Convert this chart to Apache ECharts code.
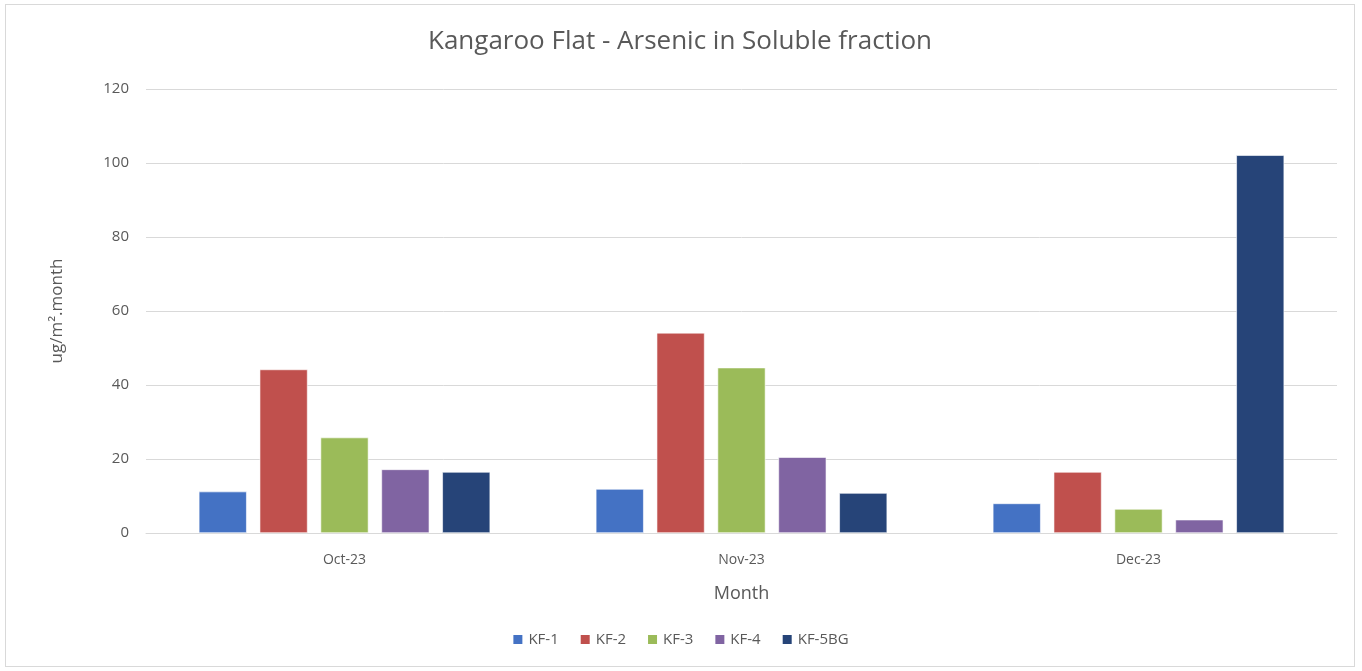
<!DOCTYPE html>
<html>
<head>
<meta charset="utf-8">
<script src="https://cdn.jsdelivr.net/npm/echarts@6/dist/echarts.min.js"></script>
<style>
  html, body { margin: 0; padding: 0; background: #fff; }
  #main { position: absolute; left: 5px; top: 4px; width: 1350px; height: 663px; border: 1px solid #d9d9d9; box-sizing: border-box; }
</style>
</head>
<body>
<div id="main"></div>
<script>
// months on the x axis
const months = ['Oct-23', 'Nov-23', 'Dec-23']
// soluble arsenic, ug/m2.month, per site
const kf1 = [11.2, 11.9, 8.0]
const kf2 = [44.2, 54.1, 16.5]
const kf3 = [25.8, 44.7, 6.5]
const kf4 = [17.2, 20.5, 3.6]
const kf5bg = [16.5, 10.8, 102.1]
const yTicks = [0, 20, 40, 60, 80, 100, 120]

const names = ['KF-1', 'KF-2', 'KF-3', 'KF-4', 'KF-5BG']
const colors = ['#4472C4', '#C0504D', '#9BBB59', '#8064A2', '#264478']
const values = [kf1, kf2, kf3, kf4, kf5bg]

const fontFam = 'Open Sans, sans-serif'
const chart = echarts.init(document.getElementById('main'))

chart.setOption({
  animation: false,
  title: {
    text: 'Kangaroo Flat - Arsenic in Soluble fraction',
    left: 'center',
    top: 19,
    textStyle: { fontFamily: fontFam, fontSize: 26, fontWeight: 'normal', color: '#595959' }
  },
  legend: {
    data: names,
    bottom: 14,
    left: 'center',
    itemWidth: 11,
    itemHeight: 11,
    itemGap: 20,
    icon: 'rect',
    textStyle: { fontFamily: fontFam, fontSize: 15, color: '#595959' }
  },
  grid: { left: 140, right: 17, top: 84, bottom: 133 },
  xAxis: {
    type: 'category',
    data: months,
    name: 'Month',
    nameLocation: 'middle',
    nameGap: 52,
    nameTextStyle: { fontFamily: fontFam, fontSize: 18, color: '#595959' },
    axisLine: { lineStyle: { color: '#d9d9d9', width: 1 } },
    axisTick: { show: false },
    axisLabel: { fontFamily: fontFam, fontSize: 14, color: '#595959', margin: 20 }
  },
  yAxis: {
    type: 'value',
    min: yTicks[0],
    max: yTicks[yTicks.length - 1],
    interval: 20,
    name: 'ug/m\u00b2.month',
    nameLocation: 'middle',
    nameGap: 80,
    nameTextStyle: { fontFamily: fontFam, fontSize: 17, color: '#595959' },
    axisLine: { show: false },
    axisTick: { show: false },
    axisLabel: { fontFamily: fontFam, fontSize: 15, color: '#595959', margin: 17 },
    splitLine: { lineStyle: { color: '#d9d9d9', width: 1 } }
  },
  series: names.map((n, i) => ({
    name: n,
    type: 'bar',
    data: values[i],
    barGap: '27%',
    barCategoryGap: '26.6%',
    itemStyle: { color: colors[i], borderColor: '#ffffff', borderWidth: 0.6 }
  }))
})
</script>
</body>
</html>
